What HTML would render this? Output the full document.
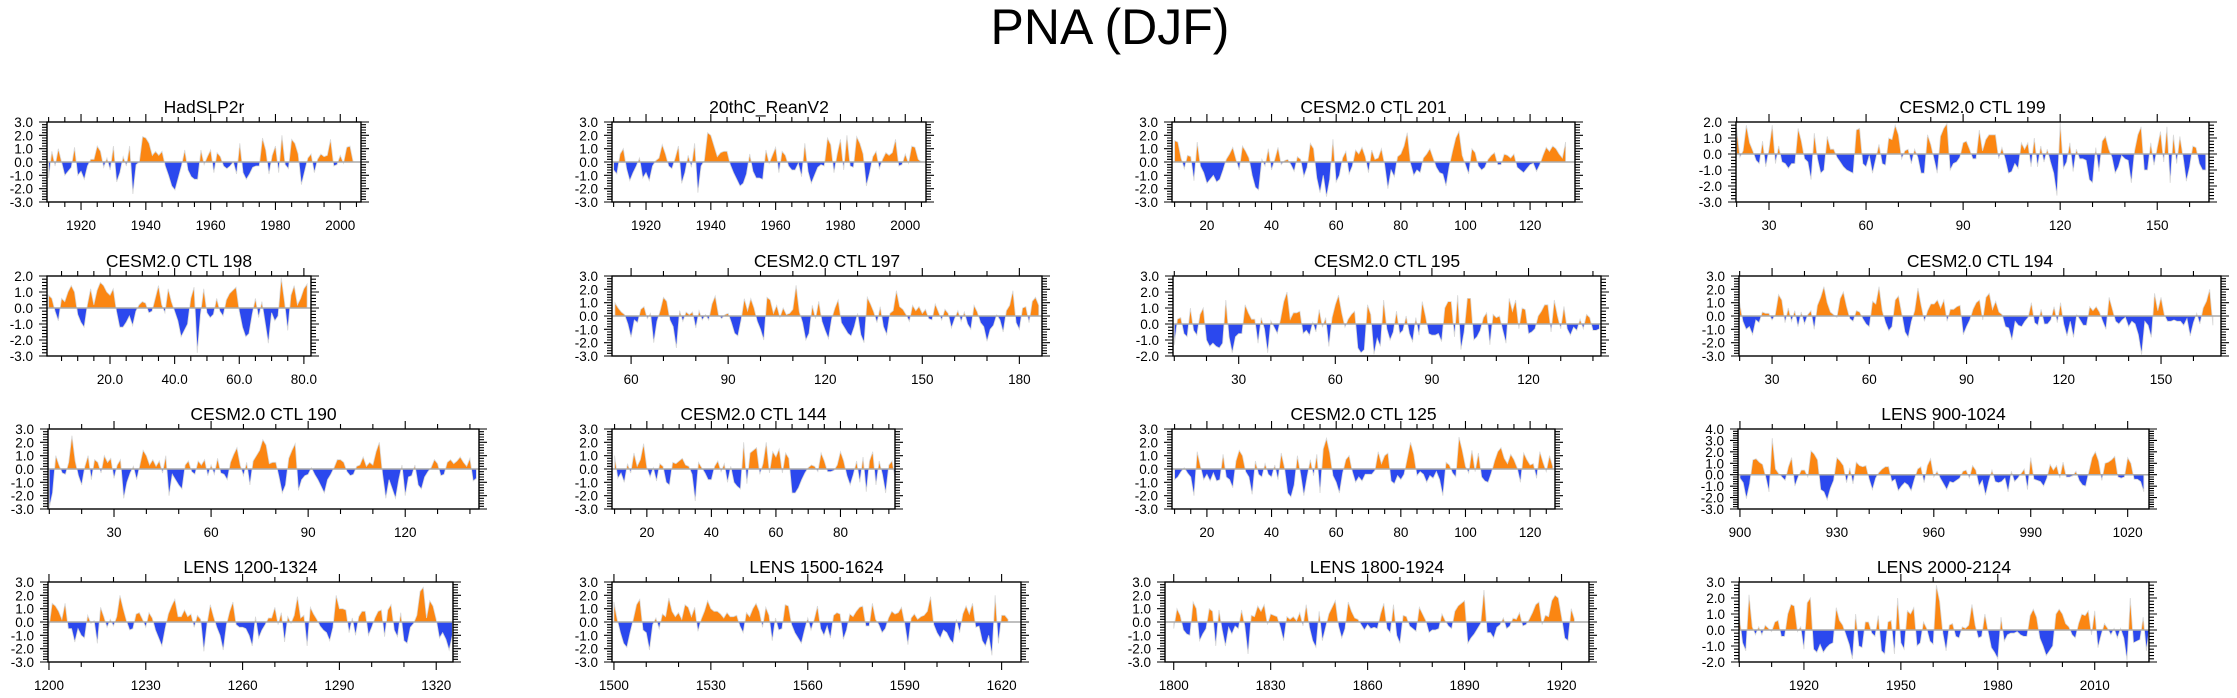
<!DOCTYPE html>
<html><head><meta charset="utf-8"><title>PNA (DJF)</title>
<style>html,body{margin:0;padding:0;background:#fff}svg{display:block;font-family:"Liberation Sans",Arial,sans-serif}</style>
</head><body>
<svg id="fig" width="2237" height="698" viewBox="0 0 2237 698" xmlns="http://www.w3.org/2000/svg">
<text x="1110" y="44" font-size="50" text-anchor="middle" fill="#000">PNA (DJF)</text>
</svg>
<script>
const titles = ["HadSLP2r","20thC_ReanV2","CESM2.0 CTL 201","CESM2.0 CTL 199","CESM2.0 CTL 198","CESM2.0 CTL 197","CESM2.0 CTL 195","CESM2.0 CTL 194","CESM2.0 CTL 190","CESM2.0 CTL 144","CESM2.0 CTL 125","LENS 900-1024","LENS 1200-1324","LENS 1500-1624","LENS 1800-1924","LENS 2000-2124"];
const startYears = [1910,1910,10,20,1,55,10,20,10,10,10,900,1200,1500,1800,1900];
const xRanges = [[1909.5,2006.4],[1909.5,2006.4],[9.2,133.9],[19.8,166],[0.5,82.2],[54.1,187],[9.6,142.5],[19.8,168.5],[9.6,142.8],[9.2,96.9],[9.2,127.7],[899.4,1026.6],[1199.7,1325.2],[1499.4,1626],[1797.3,1928.5],[1899.9,2026.8]];
const yRanges = [[-3,3],[-3,3],[-3,3],[-3,2],[-3,2],[-3,3],[-2,3],[-3,3],[-3,3],[-3,3],[-3,3],[-3,4],[-3,3],[-3,3],[-3,3],[-2,3]];
const xMajorTicks = [[1920,1940,1960,1980,2000],[1920,1940,1960,1980,2000],[20,40,60,80,100,120],[30,60,90,120,150],[20,40,60,80],[60,90,120,150,180],[30,60,90,120],[30,60,90,120,150],[30,60,90,120],[20,40,60,80],[20,40,60,80,100,120],[900,930,960,990,1020],[1200,1230,1260,1290,1320],[1500,1530,1560,1590,1620],[1800,1830,1860,1890,1920],[1920,1950,1980,2010]];
const xMinorSteps = [5,5,5,10,5,10,10,10,10,5,5,10,10,10,10,10];
const xLabelDecimals = [0,0,0,0,1,0,0,0,0,0,0,0,0,0,0,0];

const sHad = [-1.2,0.8,-0.3,1.0,0,-1.0,-0.7,-0.4,1.1,-1.0,-0.7,-1.3,-0.3,0.2,0.2,1.2,0.8,-0.4,0.3,-0.6,1.2,-1.5,-0.8,0.4,-0.3,1.2,-2.4,-0.2,0,1.9,1.8,1.4,0.5,0.8,0.5,0.8,-0.3,-1.0,-1.8,-2.1,-1.2,-0.3,0.9,-0.6,-1.1,-1.3,-1.3,0.9,-0.2,0.4,0.9,-0.8,0.7,0.4,-0.3,-0.5,-0.3,0,-0.9,1.4,-0.8,-1.3,-0.9,-0.4,-0.3,-0.3,1.8,0.9,-0.9,0.5,1.2,-0.8,2.0,-0.2,-0.5,1.7,1.4,0.6,-1.7,-0.7,0.3,0.6,-0.8,0.2,0.6,0.4,0.5,1.7,-0.3,-0.2,0.5,-0.1,1.1,1.2,0];
const s20c = [-0.6,-0.9,0.6,1.0,-0.5,-1.4,-0.8,-0.3,0.3,-1.2,-0.8,-1.4,-0.3,0.1,0.3,1.3,0.6,-0.3,-0.5,0.3,1.2,-1.6,-0.8,0.5,-0.4,1.4,-2.3,-0.3,0.1,2.2,2.0,1.2,0.4,0.7,0.8,0.8,-0.2,-0.8,-1.3,-1.8,-1.6,-0.9,0.6,-0.7,-1.2,-1.2,-1.3,0.9,-0.1,0.5,1.1,-0.8,0.8,0.5,-0.3,-0.6,-0.6,-0.1,-1.1,1.4,-0.7,-1.6,-1.0,-0.4,-0.2,-0.3,1.8,1.3,-0.8,0.6,1.7,-0.6,2.0,-0.3,-0.4,1.9,1.4,0.6,-1.8,-0.8,0.4,0.8,-0.5,0.2,0.7,0.5,0.7,1.7,-0.3,-0.2,0.6,-0.1,1.2,1.1,0.2,0];
const s201 = [1.6,1.5,0.3,-0.5,0.5,0.4,-1.4,1.5,-0.3,-0.8,-1.6,-1.3,-1.0,-1.5,-1.3,-0.6,0.2,0.6,1.1,0.2,-0.6,1.2,0.8,0.3,-1.0,-1.9,-2.1,0.2,-0.3,1.0,-0.6,0.2,1.1,-0.2,0.1,0.2,-0.2,-0.7,0.4,0.2,-1.1,-0.4,1.4,1.0,-1.2,-2.3,-1.0,-2.6,-1.3,1.7,-1.5,-1.0,0.3,0.8,-0.9,-0.3,0.9,0.6,1.1,0.4,-0.8,0.9,0.2,0.3,1.0,-0.2,-2.0,-0.6,-1.1,0.4,0.6,1.2,2.2,-0.1,-1.0,-0.6,-0.8,0.3,0.6,1.0,0.3,-0.4,-0.8,-0.9,-1.8,-0.3,0.8,1.8,2.3,0.5,-0.2,-0.9,1.0,0.7,-0.3,-0.6,-0.4,0.2,0.5,0.7,-0.2,-0.2,0.6,0.5,0.3,0.6,-0.4,-0.6,-0.8,-0.5,-0.2,-0.1,-0.7,-0.2,0.5,1.1,0.8,1.2,1.0,0.6,0.3,1.5];
const s199 = [1.6,-0.2,0.2,1.8,0.7,0.2,-0.4,-0.6,0.8,-0.8,0.3,1.8,-0.6,0.5,-0.5,-0.6,-0.9,-0.6,-0.6,1.6,0.8,-0.3,-0.5,-1.6,1.3,-0.3,-1.2,-1.0,1.1,0.3,0.3,-0.2,-0.5,-0.8,-1.0,-1.1,-1.2,1.5,1.6,-0.6,-0.8,-0.1,-1.2,-0.3,0.6,-0.6,-0.7,1.0,0.9,1.8,1.2,-0.3,0.2,0.3,-0.6,0.3,-0.2,-1.2,-1.2,1.2,0.6,-0.3,-1.2,1.1,1.6,1.9,-1.0,-0.6,-0.5,-0.2,0.7,0.8,0.3,-0.3,-0.3,1.5,0.2,0.9,1.2,1.2,1.2,-0.3,0.4,-0.3,-1.2,-1.1,-0.6,-0.9,0.7,0.3,0.7,-0.8,1.0,-0.8,0.5,-0.5,0.3,-0.5,-1.2,-2.6,2.0,-0.9,-0.5,0.7,-1.1,0.3,-0.3,-0.3,-0.4,-1.6,-1.8,0.4,-1.1,0.8,1.1,0.3,-0.2,-1.2,-0.8,-0.1,-0.3,-0.4,-1.8,0.2,1.2,1.7,-1.0,-1.0,0.7,-0.7,0.4,1.4,-0.5,1.7,-1.8,1.2,-0.6,1.1,-0.2,-1.7,-0.8,0.5,0.4,-0.6,-1.0,-1.0];
const s198 = [0.8,0.6,-0.2,-0.8,0.6,0.4,1.0,1.4,1.0,-0.4,-0.9,-1.2,0.2,1.2,0.2,1.1,1.6,1.4,1.0,0.8,1.2,-0.2,-1.2,-1.2,-0.9,-0.5,-1.1,-0.2,0.2,0.4,0.3,-0.3,-0.2,0.6,1.4,0.2,-0.3,1.2,0.4,-0.2,-0.8,-1.8,-1.4,-1.0,0.6,1.3,-2.8,-0.4,1.2,-0.3,-0.6,-0.4,0.6,-0.2,-0.5,0.5,0.9,1.1,1.3,-0.2,-1.2,-1.8,-1.6,-0.4,0.6,-0.6,0.4,-0.9,-2.2,-0.3,-0.8,-0.5,1.9,0.4,-1.4,0.8,1.4,0.2,0.6,1.2,1.5];
const s197 = [1.0,0.6,0.3,0.1,-0.6,-1.6,-0.3,-0.5,0.5,0.7,-0.2,0.2,-2.0,-0.4,0.4,1.4,1.1,-0.3,-0.8,-2.4,0.4,-0.4,0.3,0.1,0.3,-0.9,0.4,-0.3,0.1,-0.3,0.9,1.5,0.1,-0.2,0.1,0.2,-0.5,-1.3,-1.5,-0.3,1.3,0.4,1.3,0.6,-0.4,-1.0,-1.8,1.4,1.2,0.2,0.8,-0.1,0.6,0.1,0.2,0.5,2.3,0.3,-0.5,-1.8,-1.3,0.8,-0.2,1.1,-0.4,-1.1,-1.7,-0.2,0.6,1.2,-0.5,-0.9,-1.3,-1.5,-0.8,0.2,-1.4,-2.0,1.4,0.9,0.3,-0.5,0.7,-0.8,-1.4,0.2,0.4,1.9,0.7,0.5,0.1,-0.4,0.8,0.4,0.7,0.2,0.5,-0.2,-0.3,0.9,0.3,-0.3,0.5,0.2,-0.9,-0.2,0.4,-0.4,0.3,-0.6,-1.0,0.8,0.3,-0.5,-0.8,-1.9,-1.0,-0.7,0.1,-0.3,-1.2,0.4,0.8,1.9,-0.5,-1.0,0.6,0.7,-0.5,1.1,1.4,0.8];
const s195 = [-1.3,0.3,0.4,-0.6,-0.8,1.0,-0.4,-0.7,0.6,1.0,-1.0,-1.4,-1.2,-1.4,-1.5,-1.2,1.5,-0.8,-1.8,-0.8,-0.6,-0.6,1.2,0.7,0.3,0.3,-1.2,0.4,-0.3,-1.8,0.2,-0.2,-0.6,0.3,1.4,2.0,0.3,0.7,0.7,0.8,-0.6,-0.4,-0.7,0.1,-0.5,0.9,-0.2,0.4,-1.4,0.4,1.2,1.8,0.7,-0.2,0.3,0.6,0.8,-1.5,-1.8,-1.6,1.2,0.6,-1.9,-0.9,-1.4,1.5,-0.3,-1.0,-0.5,0.8,-0.6,-0.4,0.5,-0.6,-1.1,0.4,-0.7,1.4,0.5,-0.6,-0.7,-0.7,-0.6,-1.1,1.0,1.4,1.4,-0.8,1.8,-1.6,-0.5,1.6,1.6,-1.0,-0.8,-0.4,0.4,0.7,-1.3,0.6,0.4,0.5,-0.4,-1.2,1.6,0.8,1.5,-0.3,1.0,0.9,-0.6,-0.5,-0.3,0.5,0.8,1.2,1.2,-0.5,1.5,0.5,-0.3,1.1,-0.3,-0.7,-0.2,-0.4,0.3,-0.3,0.6,0.4,-0.4,-0.4,-0.3];
const s194 = [1.0,-0.4,-1.0,-0.8,-1.4,-0.3,-0.5,0.3,0.2,0.2,-0.3,0.1,1.6,1.2,-0.5,0.6,-0.4,0.4,-0.8,0.3,-0.6,0.1,0.4,-1.0,0.8,1.4,2.2,1.0,0.3,0.1,-0.1,1.3,1.8,0.7,-0.2,-0.4,0.4,0.3,-0.2,-0.6,-0.8,1.1,0.9,2.2,0.4,-0.5,-1.1,-0.8,1.2,1.5,0.2,-1.2,-1.6,-0.4,0.4,2.1,0.8,-0.4,0.4,0.9,0.9,1.2,0.6,1.2,-0.4,0.5,0.5,0.7,0.8,-1.4,-0.8,-0.3,0.5,1.0,1.2,-0.3,1.4,1.7,0.5,1.1,0.3,0.1,-0.8,-0.9,-1.8,-0.4,-0.7,-0.8,-0.4,-0.1,1.0,-0.5,-0.7,0.5,-0.6,-0.6,-0.3,0.7,-0.5,1.0,-0.6,-1.5,-0.4,-1.6,0.1,-0.3,-0.7,-0.7,0.7,0.4,0.7,0.3,-0.4,-1.0,1.4,0.5,-0.4,-0.6,-0.3,-0.1,-0.8,-0.4,-0.6,-1.4,-2.9,-0.4,-0.7,-1.6,1.7,0.4,1.4,0.1,-0.4,-0.4,-0.3,-0.4,-0.4,-0.7,-0.2,-1.5,-0.5,0.2,-0.6,0.6,1.1,2.0,-0.7];
const s190 = [-2.9,-1.8,1.0,0.3,-0.3,-0.4,0.5,2.5,0.6,-0.5,-1.2,0.2,1.0,-0.8,0.7,0.5,-0.3,1.0,0.5,0.8,-0.7,0.3,0.7,-2.2,-1.0,-0.3,0.2,-0.8,0.3,1.4,1.0,0.3,0.7,0.2,0.6,-0.3,1.0,-2.0,-0.4,-0.8,-1.2,-1.5,0.3,0.6,-0.2,-0.4,0.6,0.3,0.7,-0.5,0.3,-0.4,0.8,-0.3,-0.4,-0.8,0.5,1.1,1.6,0.3,-0.5,0.5,-1.2,0.6,1.0,1.4,2.2,1.8,0.4,0.5,0.5,-0.6,-1.8,-1.2,0.8,1.4,1.9,-1.6,-0.8,-0.5,-0.4,0.1,-0.4,-0.8,-1.3,-1.8,-0.8,-0.4,0.1,0.7,0.7,0.5,-0.2,-0.5,-0.4,0.2,0.3,0.9,0.2,0.5,0.3,1.3,2.0,-0.4,-2.2,-0.8,-1.5,-2.2,-0.8,0.3,-2.0,-0.6,-0.5,0.3,-1.2,-1.5,-0.6,-0.2,0.1,0.7,0.4,-0.5,-0.4,0.5,0.7,0.4,0.6,0.9,0.5,0.2,0.8,-0.9,-0.7];
const s144 = [1.0,-0.7,-0.3,-1.0,0.4,-0.3,1.2,0.2,0.7,1.9,0.1,-0.6,0.1,-0.9,0.4,0.2,-1.0,-1.2,0.5,0.4,0.6,0.8,0.3,0.2,-0.4,-2.4,0.5,0.1,-0.3,-0.8,-0.8,0.2,0.6,-0.2,0.4,-1.0,0.2,-1.0,-1.3,-1.5,2.0,-1.1,1.2,1.4,1.6,-0.4,0.4,2.0,-0.3,1.3,0.9,1.5,-0.3,1.2,0.8,-1.8,-1.8,-1.4,-0.8,-0.3,0.1,0.3,0.2,-0.2,1.2,0.6,-0.2,-0.2,-0.1,0.3,1.3,0.6,-0.5,-1.2,-0.4,0.6,-1.0,0.9,-1.7,0.6,1.3,-1.2,0.6,-0.4,-1.8,0.3,0.6,-0.8,-1.2,-1.7,1.1,-1.6,-0.5,0.3];
const s125 = [-0.8,-0.6,-0.2,0.1,-0.3,-0.6,-2.0,1.3,0.2,-0.8,-0.4,-0.9,-0.3,-0.9,-0.8,1.1,-0.6,-0.8,-1.4,0.6,1.4,1.0,-0.2,-0.6,-1.9,0.6,-0.4,-0.6,0.4,-0.4,-0.6,0.3,-0.8,1.2,0.1,-1.8,-2.1,-1.2,1.0,-0.4,-2.0,-0.6,0.7,-0.5,1.1,-1.8,1.5,2.3,1.2,-0.5,-1.0,-1.8,-0.3,0.7,1.0,-0.2,-1.0,-0.6,-0.9,-0.4,-0.4,-0.4,-0.1,1.3,0.4,1.0,1.2,-0.9,-1.1,-0.5,-0.8,-0.4,0.8,2.0,1.1,-0.5,-0.2,-0.4,-1.0,-0.5,-0.7,-0.2,-0.8,-2.0,0.5,0.3,-0.3,-0.6,2.4,1.4,0.2,-0.3,1.4,-0.2,1.2,-0.6,-0.9,-1.0,-0.3,0.6,1.3,1.6,0.8,0.4,1.1,0.7,0.1,-1.0,1.2,0.7,0.3,0.4,-0.7,1.3,0.5,-0.2,1.0,0.2];
const s900 = [-0.3,-0.7,-2.1,-0.8,1.3,1.4,1.1,0.9,-0.2,-1.5,3.2,0.5,0.1,-0.2,-0.5,0.7,1.5,-1.0,-0.2,0.4,0.4,-0.2,2.1,1.8,1.3,-1.3,-1.5,-2.2,-1.2,-0.5,1.5,1.2,0.8,-0.7,0.6,-0.8,1.1,0.8,0.7,0.8,-0.4,-1.3,-0.3,0.2,0.5,0.7,0.7,-0.6,-0.4,-1.4,-1.0,-0.7,-0.9,-1.4,-0.4,0.5,0.7,-0.7,0.8,1.4,-0.2,0.3,-0.3,-0.8,-1.3,-0.6,-0.7,-0.5,-0.3,0.3,0.4,-0.3,0.8,0.4,-1.0,-0.5,-1.8,-0.6,0.4,-0.6,-0.7,-0.6,-0.3,-1.5,0.3,-0.6,-0.3,0.1,0.5,-1.3,1.5,-0.4,-0.5,-0.6,-1.0,-0.3,0.9,0.4,0.8,-0.3,1.1,-0.2,-0.2,-0.1,0.3,-0.5,-0.9,-1.0,0.3,1.5,2.0,1.2,-0.5,1.0,1.1,1.3,1.6,-0.2,-0.3,-0.2,1.5,1.0,-0.4,-0.4,-0.6,-1.5];
const s1200 = [-0.4,1.4,1.2,0.8,0.2,1.4,-0.5,-0.5,-1.5,-0.5,-1.0,-1.2,0.5,-0.1,0.1,-1.6,1.1,0.4,-0.4,0.2,-0.3,0.4,2.0,1.0,0.1,-0.6,-0.5,0.6,0.7,0.2,-0.4,0.7,0.3,-0.6,-1.2,-1.8,-0.5,0.6,1.2,1.7,0.4,0.4,0.9,0.4,0.6,-0.4,0.5,0.2,-2.2,-0.1,1.3,0.4,-0.4,-1.0,-2.1,-0.2,0.8,1.5,-0.2,-0.4,-0.4,-0.5,-1.0,-1.8,0.4,-1.2,-0.6,-0.2,0.3,0.3,1.1,-0.2,0.7,-1.5,0.4,-0.1,0.5,1.9,0.3,0.5,-1.8,1.1,0.6,0.2,-0.3,-0.6,-0.8,-1.4,-0.4,2.0,1.0,1.0,0.9,-0.8,0.3,-1.0,0.4,0.8,0.8,-1.0,-0.4,0.3,0.8,0.9,-1.1,0.9,1.3,-0.6,-1.1,0.7,-1.4,-1.6,-0.4,-0.1,0.5,2.3,2.6,0.3,1.6,1.2,0.2,-1.2,-0.8,-1.3,-2.1,-1.0];
const s1500 = [1.5,0.2,-0.8,-1.6,-1.9,-0.8,0.2,1.3,1.7,-0.6,-0.8,-2.1,-0.2,0.3,-0.5,0.6,0.4,1.8,0.8,0.4,0.7,0.2,1.3,1.1,0.4,1.1,-0.7,0.2,0.8,1.6,1.0,0.8,0.8,0.6,0.3,0.7,0.4,0.4,0.5,-0.3,-0.8,0.7,0.4,1.0,1.4,0.8,-0.4,1.1,0.5,-1.4,0.3,-0.6,-0.5,1.3,1.2,-0.2,-0.8,-1.2,-1.6,-0.6,0.3,-0.6,0.2,1.2,-0.5,-1.0,-0.3,-1.2,0.5,0.7,0.6,-1.3,-0.6,0.6,0.4,0.8,1.1,1.2,-0.3,-0.3,1.4,0.2,-0.2,-0.8,-0.5,0.3,0.8,0.6,0.7,1.1,-0.1,-1.7,0.3,0.6,0.2,0.4,0.5,0.8,1.9,-0.2,-0.8,-1.2,-0.6,-0.8,-1.3,-1.6,0.2,-0.8,0.6,1.2,0.6,1.4,-0.4,-0.3,-1.4,-1.8,-1.0,-2.5,2.0,-1.6,0.5,0.5,0.2];
const s1800 = [-0.5,1.0,0.5,-0.6,-0.9,-1.0,1.5,1.0,-1.4,-0.9,-0.5,1.0,0.8,-1.8,0.9,-0.6,-1.8,-0.4,-0.9,-0.3,-0.5,0.9,-0.3,-2.4,0.5,0.4,1.2,0.8,1.3,-0.2,0.6,0.5,0.4,-0.4,-1.4,0.4,0.2,0.4,0.1,0.7,-0.3,1.3,-0.4,-1.4,-1.9,0.8,-1.4,-0.4,0.6,1.1,1.6,-0.3,-1.2,-0.5,1.5,0.8,0.3,0.2,-0.2,-0.6,-0.2,-0.5,-0.4,-0.5,0.6,1.4,-0.5,-0.8,1.3,-1.0,-1.6,0.5,0.4,-0.3,-0.5,-0.7,1.1,0.6,0.1,-0.8,-0.6,-0.6,-0.5,0.6,0.1,-0.3,-0.5,0.8,1.2,1.4,1.6,-1.6,-1.2,-0.9,-0.5,-0.1,2.4,-0.8,-0.8,-1.2,-0.4,-0.2,0.3,-0.5,-0.3,0.3,0.2,0.7,-0.3,-0.2,0.2,0.7,1.3,1.5,-0.2,0.5,0.4,1.6,2.0,1.8,0.4,-1.2,-1.4,1.0,0.2];
const s2000 = [0.9,-0.8,-1.3,2.2,0.2,-0.3,0.2,-0.3,0.3,0.1,-0.1,0.5,0.6,-0.4,-0.4,1.0,1.6,1.5,-0.1,0.2,-1.2,1.7,2.0,-1.2,-1.4,-0.9,-1.4,-1.1,-0.9,-0.8,1.4,0.6,0.3,-0.3,-0.9,-1.8,1.0,-1.0,-1.1,0.5,0.5,-0.2,-0.4,0.9,-1.3,-1.5,0.5,0.6,-1.5,2.0,-0.8,-1.2,1.2,1.0,1.4,-1.0,-0.8,0.5,0.1,-0.7,-0.9,2.8,1.8,-0.2,-1.3,0.3,0.4,-0.4,-0.5,0.2,0.1,0.3,1.6,0.3,-0.5,-0.4,1.0,-0.1,-1.1,-1.4,-1.8,0.8,-0.7,-0.3,-0.2,-0.2,-0.1,-0.3,-0.4,-0.4,0.9,1.3,0.8,-0.5,-1.0,-1.6,-1.3,-1.0,1.0,1.3,1.0,0.4,0.2,-0.3,-0.5,0.4,1.0,0.9,1.2,-0.3,1.2,-1.1,-0.3,0.4,0.1,-0.3,0.1,-0.5,0.1,-0.5,-1.9,2.0,-0.8,-0.7,-0.6,0.8,-1.3,0.3];
const seriesList = [sHad,s20c,s201,s199,s198,s197,s195,s194,s190,s144,s125,s900,s1200,s1500,s1800,s2000];

// layout (pixel boxes) – not data
const boxes = [[47,122,361,202],[612,122,926,202],[1172,122,1575,202],[1736,122,2209,202],
[47,276,311,356],[612,276,1042,356],[1173,276,1601,356],[1739,276,2221,356],
[48,429,479,509],[612,429,895,509],[1172,429,1555,509],[1738,429,2149,509],
[48,582,453,662],[612,582,1021,662],[1165,582,1589,662],[1739,582,2149,662]];
const slugs = ["hadslp2r","20thc-reanv2","ctl-201","ctl-199","ctl-198","ctl-197","ctl-195","ctl-194","ctl-190","ctl-144","ctl-125","lens-900","lens-1200","lens-1500","lens-1800","lens-2000"];

const NS="http://www.w3.org/2000/svg";
const svg=document.getElementById('fig');
function mk(tag,attrs,parent){const e=document.createElementNS(NS,tag);for(const k in attrs)e.setAttribute(k,attrs[k]);(parent||svg).appendChild(e);return e;}

titles.forEach((t,i)=>{
  const [L,T,R,B]=boxes[i];
  const [x0,x1]=xRanges[i],[y0,y1]=yRanges[i];
  const sx=v=>L+(v-x0)/(x1-x0)*(R-L);
  const sy=v=>B-(v-y0)/(y1-y0)*(B-T);
  const g=mk('g',{});
  
  
  const tt=mk('text',{x:(L+R)/2,y:T-9,'font-size':17.5,'text-anchor':'middle',fill:'#000'},g);
  tt.textContent=t;
  
  
  // fill
  const vals=seriesList[i], st=startYears[i];
  const z=sy(0);
  let d='M'+sx(st).toFixed(2)+','+z.toFixed(2);
  vals.forEach((v,k)=>{d+=' L'+sx(st+k).toFixed(2)+','+sy(v).toFixed(2);});
  d+=' L'+sx(st+vals.length-1).toFixed(2)+','+z.toFixed(2)+' Z';
  const cid='c'+i, cid2='d'+i;
  const defs=mk('defs',{},g);
  const cp=mk('clipPath',{id:cid},defs); mk('rect',{x:L,y:T,width:R-L,height:z-T},cp);
  const cp2=mk('clipPath',{id:cid2},defs); mk('rect',{x:L,y:z,width:R-L,height:B-z},cp2);
  const pos=mk('path',{d:d,fill:'#fb8612',stroke:'#d8d8d8','stroke-width':0.8,'clip-path':'url(#'+cid+')'},g);
  
  
  const neg=mk('path',{d:d,fill:'#2b48ee',stroke:'#d8d8d8','stroke-width':0.8,'clip-path':'url(#'+cid2+')'},g);
  
  
  const zl=mk('line',{x1:L,x2:R,y1:z,y2:z,stroke:'#aaaaaa','stroke-width':1.5},g);
  
  
  // frame
  const fr=mk('rect',{x:L,y:T,width:R-L,height:B-T,fill:'none',stroke:'#000','stroke-width':1.4},g);
  
  
  let tk='';
  // y ticks
  for(let v=y0;v<=y1+1e-6;v=Math.round((v+0.2)*10)/10){
    const y=sy(v);const major=Math.abs(v-Math.round(v))<1e-6;const len=major?8:5;
    tk+=`M${L},${y}h${-len}M${R},${y}h${len}`;
    if(major){const lb=mk('text',{x:L-14,y:y+5,'font-size':13.5,'text-anchor':'end',fill:'#000'},g);lb.textContent=v.toFixed(1);
      
      }
  }
  // x ticks
  const ms=xMinorSteps[i];
  for(let v=Math.ceil(x0/ms)*ms;v<=x1;v+=ms){
    const x=sx(v);const major=xMajorTicks[i].includes(v);const len=major?8:5;
    tk+=`M${x},${B}v${len}M${x},${T}v${-len}`;
  }
  xMajorTicks[i].forEach(v=>{const lb=mk('text',{x:sx(v),y:B+28,'font-size':13.5,'text-anchor':'middle',fill:'#000'},g);lb.textContent=v.toFixed(xLabelDecimals[i]);
    
    });
  const tp=mk('path',{d:tk,stroke:'#000','stroke-width':1.1,fill:'none'},g);
  
  
});
</script>
</body></html>
